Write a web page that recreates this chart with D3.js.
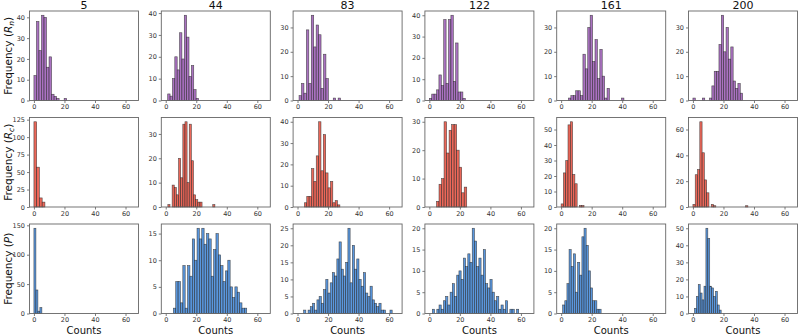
<!DOCTYPE html>
<html>
<head>
<meta charset="utf-8">
<script src="https://cdn.jsdelivr.net/npm/d3@7"></script>
<style>
body { margin: 0; background: #fff; }
svg { display: block; font-family: "DejaVu Sans", sans-serif; }
</style>
</head>
<body>
<svg id="chart" width="800" height="336"></svg>
<script>
// time points (column titles)
const times = [5, 44, 83, 122, 161, 200]
const xTicks = [0, 20, 40, 60]

// R_n histograms (bin start, bin width, counts)
const rnStart = [0, 1.3, 1, 0, 4.8, 0]
const rnWidth = [1.65, 1.55, 1.6, 1.57, 1.58, 1.55]
const rnCounts = [
    [12, 38, 24, 41, 40, 16, 21, 3, 2, 1, 0, 0, 1],
    [3, 2, 10, 20, 14, 31, 19, 39, 29, 11, 16, 5, 1],
    [2, 7, 3, 29, 7, 35, 22, 31, 27, 5, 19, 9, 0, 0, 1, 0, 1],
    [1, 3, 3, 5, 12, 7, 38, 8, 38, 40, 9, 27, 4, 4, 1],
    [1, 2, 2, 4, 4, 2, 19, 13, 30, 35, 16, 25, 9, 21, 10, 1, 5, 0, 0, 0, 0, 0, 1],
    [1, 0, 0, 0, 1, 0, 0, 1, 6, 12, 12, 23, 35, 20, 30, 17, 22, 8, 5, 7, 3]
]
const rnTickStep = [10, 10, 10, 10, 10, 10]

// R_c histograms
const rcStart = [0, 1.4, 4.5, 4.7, 0, 0]
const rcWidth = [1.8, 1.4, 1.55, 1.65, 1.5, 1.5]
const rcCounts = [
    [122, 57, 13, 7],
    [1, 0, 9, 8, 5, 20, 12, 34, 35, 10, 34, 19, 5, 3, 2, 2, 0, 0, 0, 0, 0, 1],
    [2, 5, 5, 18, 12, 24, 40, 17, 34, 16, 9, 12, 2, 3, 1],
    [2, 8, 10, 30, 19, 27, 29, 29, 20, 14, 5, 7],
    [2, 22, 30, 53, 55, 21, 15, 0, 1, 1],
    [2, 25, 29, 66, 42, 21, 11, 0, 2, 1, 0, 0, 0, 0, 0, 0, 0, 0, 0, 0, 0, 0, 0, 1]
]
const rcTickStep = [25, 10, 10, 10, 10, 20]

// P histograms
const pStart = [0, 5, 4, 2, 1, 1]
const pWidth = [1.3, 1.55, 1.45, 1.45, 1.4, 1.25]
const pCounts = [
    [145, 40, 4, 10],
    [1, 6, 6, 2, 9, 1, 9, 7, 14, 10, 16, 14, 16, 13, 15, 14, 7, 12, 15, 11, 9, 6, 8, 10, 5, 3, 5, 4, 2, 1, 1],
    [1, 0, 1, 2, 3, 1, 4, 5, 3, 7, 10, 6, 9, 12, 11, 16, 21, 13, 11, 15, 25, 9, 20, 13, 16, 10, 8, 12, 6, 5, 8, 4, 3, 2, 3, 1, 1, 0, 0, 1],
    [1, 0, 1, 2, 1, 3, 4, 2, 5, 7, 4, 9, 10, 8, 13, 11, 14, 12, 20, 17, 11, 13, 9, 15, 7, 6, 8, 5, 3, 4, 1, 2, 1, 3, 0, 1, 1, 0, 1],
    [2, 3, 7, 15, 11, 14, 5, 12, 9, 18, 20, 16, 10, 6, 3, 3, 1, 1],
    [3, 10, 17, 12, 8, 16, 50, 44, 16, 15, 10, 13, 5, 2]
]
const pTickStep = [50, 5, 5, 5, 5, 10]

const rows = [
    { sym: "R", sub: "n", color: "#9b59b6", start: rnStart, width: rnWidth, counts: rnCounts, step: rnTickStep },
    { sym: "R", sub: "c", color: "#e74c3c", start: rcStart, width: rcWidth, counts: rcCounts, step: rcTickStep },
    { sym: "P", sub: null, color: "#3d85d8", start: pStart, width: pWidth, counts: pCounts, step: pTickStep }
]

const left0 = 29.5, colStep = 131.8, pw = 109
const top0 = 11, rowStep = 106.5, ph = 89.5

let svg = d3.select('#chart')

let x = d3.scaleLinear().domain([-2.9, 68.5]).range([0, pw])

rows.forEach((row, r) => {
    times.forEach((t, c) => {
        let g = svg.append('g')
            .attr('transform', `translate(${left0 + c * colStep},${top0 + r * rowStep})`)

        let counts = row.counts[c]
        let ymax = d3.max(counts) * 1.05
        let y = d3.scaleLinear().domain([0, ymax]).range([ph, 0])

        let bins = counts.map((n, i) => ({
            x0: row.start[c] + i * row.width[c],
            x1: row.start[c] + (i + 1) * row.width[c],
            n: n
        })).filter(d => d.n > 0)

        g.selectAll('rect.bar')
            .data(bins)
            .enter()
            .append('rect')
            .attr('class', 'bar')
            .attr('x', d => x(d.x0))
            .attr('width', d => x(d.x1) - x(d.x0))
            .attr('y', d => y(d.n))
            .attr('height', d => ph - y(d.n))
            .attr('fill', row.color)
            .attr('fill-opacity', 0.85)
            .attr('stroke', '#2a2a2a')
            .attr('stroke-opacity', 0.8)
            .attr('stroke-width', 0.6)

        let yTicks = d3.range(0, ymax, row.step[c])

        let yAxis = g.append('g')
            .call(d3.axisLeft(y).tickValues(yTicks).tickSize(2.5).tickPadding(2))
        let xAxis = g.append('g')
            .attr('transform', `translate(0,${ph})`)
            .call(d3.axisBottom(x).tickValues(xTicks).tickSize(2.5).tickPadding(1.5))

        ;[yAxis, xAxis].forEach(a => {
            a.select('.domain').remove()
            a.selectAll('line').attr('stroke', '#444').attr('stroke-width', 0.7)
            a.selectAll('text')
                .attr('fill', '#333')
                .style('font-size', '6.5px')
                .style('font-family', '"DejaVu Sans", sans-serif')
        })

        g.append('rect')
            .attr('width', pw)
            .attr('height', ph)
            .attr('fill', 'none')
            .attr('stroke', '#666')
            .attr('stroke-width', 0.9)

        if (r == 0) {
            g.append('text')
                .attr('x', pw / 2)
                .attr('y', -2)
                .attr('text-anchor', 'middle')
                .attr('font-size', '11px')
                .attr('fill', '#111')
                .text(t)
        }

        if (r == rows.length - 1) {
            g.append('text')
                .attr('x', pw / 2)
                .attr('y', ph + 20.5)
                .attr('text-anchor', 'middle')
                .attr('font-size', '10px')
                .attr('fill', '#111')
                .text('Counts')
        }

        if (c == 0) {
            let lab = g.append('text')
                .attr('transform', `translate(-18,${ph / 2}) rotate(-90)`)
                .attr('text-anchor', 'middle')
                .attr('font-size', '10.5px')
                .attr('fill', '#111')
            lab.append('tspan').text('Frequency (')
            lab.append('tspan').attr('font-style', 'italic').text(row.sym)
            if (row.sub) {
                lab.append('tspan')
                    .attr('font-style', 'italic')
                    .attr('font-size', '7.5px')
                    .attr('dy', 2)
                    .text(row.sub)
                lab.append('tspan').attr('dy', -2).text(')')
            } else {
                lab.append('tspan').text(')')
            }
        }
    })
})
</script>
</body>
</html>
